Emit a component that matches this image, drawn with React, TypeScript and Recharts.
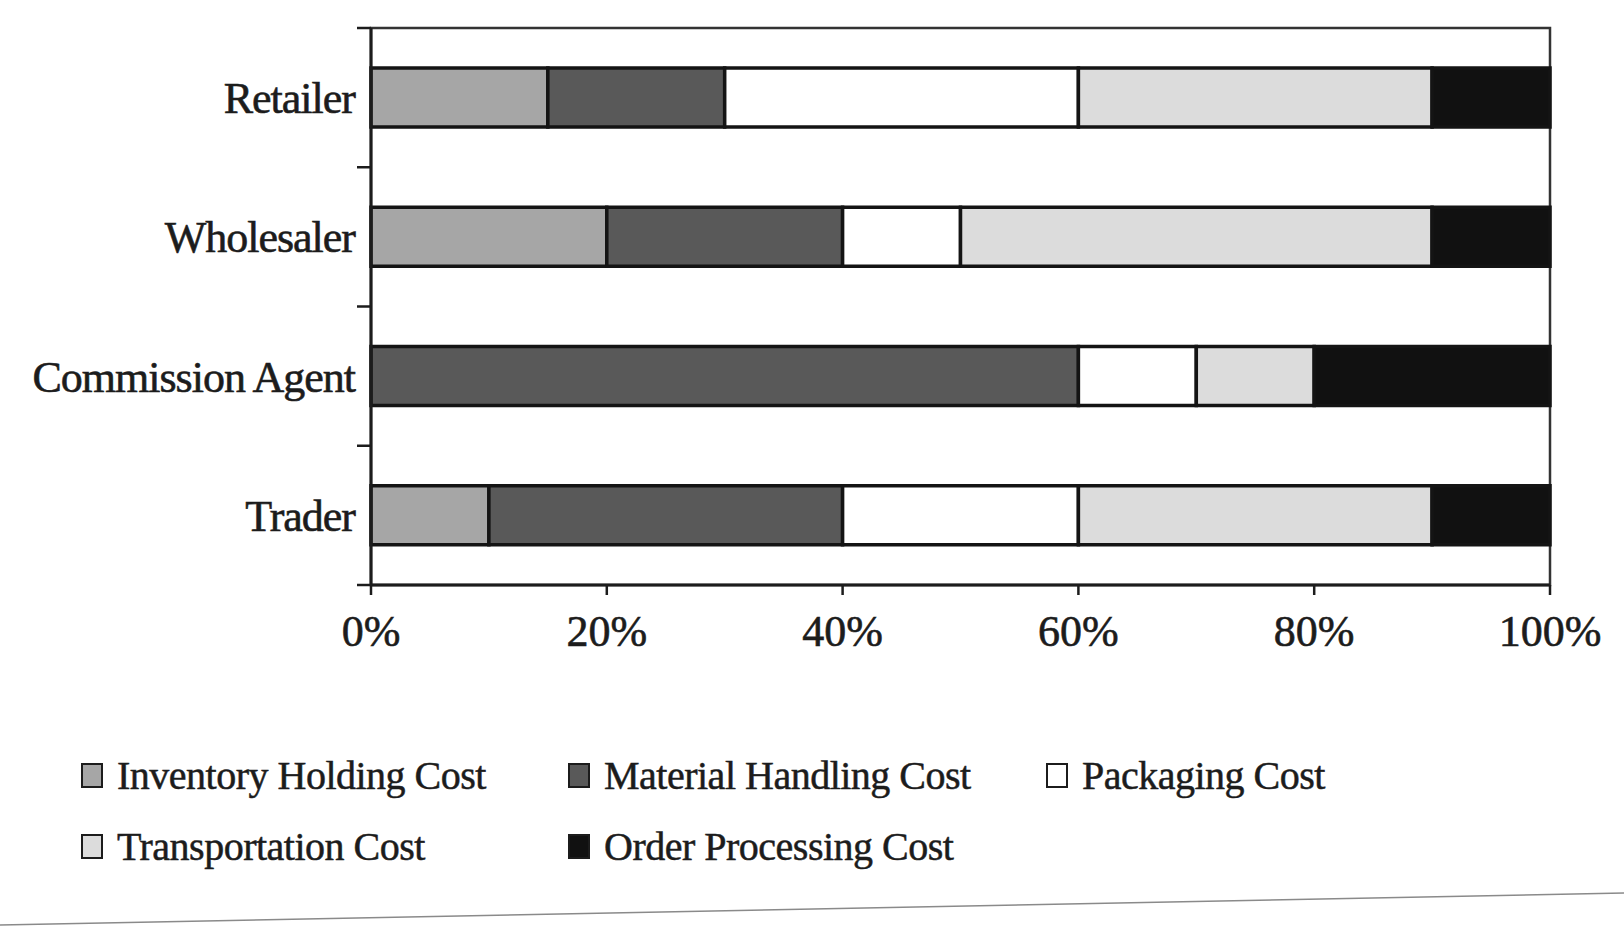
import { Bar, BarChart, ReferenceArea, XAxis, YAxis } from "recharts";

const categories = ["Retailer", "Wholesaler", "Commission Agent", "Trader"];
const inventoryHolding = [15, 20, 0, 10];
const materialHandling = [15, 20, 60, 30];
const packaging = [30, 10, 10, 20];
const transportation = [30, 40, 10, 30];
const orderProcessing = [10, 10, 20, 10];
const xTicks = [0, 20, 40, 60, 80, 100];

const series = [
  { key: "inventory", name: "Inventory Holding Cost", values: inventoryHolding, fill: "#a6a6a6" },
  { key: "material", name: "Material Handling Cost", values: materialHandling, fill: "#595959" },
  { key: "packaging", name: "Packaging Cost", values: packaging, fill: "#ffffff" },
  { key: "transport", name: "Transportation Cost", values: transportation, fill: "#dcdcdc" },
  { key: "order", name: "Order Processing Cost", values: orderProcessing, fill: "#111111" },
];

// legend is laid out in rows of three, like the printed figure
const legendRows = [series.slice(0, 3), series.slice(3)];

const data = categories.map((name, i) => {
  const row: Record<string, string | number> = { name };
  series.forEach((s) => (row[s.key] = s.values[i]));
  return row;
});

const W = 1624;
const PLOT_LEFT = 371;
const PLOT_TOP = 28;
const PLOT_BOTTOM = 585;
const HALF_BAND = (PLOT_BOTTOM - PLOT_TOP) / categories.length / 2;
const FONT = "'Liberation Serif', 'Times New Roman', serif";
const INK = "#1c1c1c";

function CategoryTick(props: any) {
  const { y, payload, index } = props;
  return (
    <g>
      <line x1={PLOT_LEFT - 14} x2={PLOT_LEFT} y1={y - HALF_BAND} y2={y - HALF_BAND} stroke={INK} strokeWidth={2.5} />
      {index === categories.length - 1 && (
        <line x1={PLOT_LEFT - 14} x2={PLOT_LEFT} y1={y + HALF_BAND} y2={y + HALF_BAND} stroke={INK} strokeWidth={2.5} />
      )}
      <text
        x={PLOT_LEFT - 16}
        y={y}
        dy="0.35em"
        textAnchor="end"
        fontFamily={FONT}
        fontSize={44}
        letterSpacing={-1}
        fill={INK}
        stroke={INK}
        strokeWidth={0.6}
      >
        {payload.value}
      </text>
    </g>
  );
}

export default function App() {
  return (
    <div style={{ position: "absolute", left: 0, top: 0, width: W, height: 938, background: "#fff", fontFamily: FONT }}>
      <BarChart
        width={W}
        height={680}
        data={data}
        layout="vertical"
        margin={{ top: PLOT_TOP, right: W - 1550, left: 0, bottom: 0 }}
      >
        <XAxis
          type="number"
          domain={[0, 100]}
          ticks={xTicks}
          tickFormatter={(v) => `${v}%`}
          height={680 - PLOT_BOTTOM}
          tickSize={10}
          tickMargin={20}
          axisLine={{ stroke: INK, strokeWidth: 3 }}
          tickLine={{ stroke: INK, strokeWidth: 2.5 }}
          tick={{ fontSize: 44, fill: INK, stroke: INK, strokeWidth: 0.6, fontFamily: FONT }}
        />
        <YAxis
          type="category"
          dataKey="name"
          width={PLOT_LEFT}
          interval={0}
          tickLine={false}
          axisLine={{ stroke: INK, strokeWidth: 3 }}
          tick={<CategoryTick />}
        />
        {series.map((s) => (
          <Bar
            key={s.key}
            dataKey={s.key}
            name={s.name}
            stackId="cost"
            fill={s.fill}
            stroke="#141414"
            strokeWidth={3.5}
            barSize={59}
            isAnimationActive={false}
          />
        ))}
        {/* plot frame (top and right edges) */}
        <ReferenceArea x1={0} x2={100} fill="none" stroke="#333" strokeWidth={2.5} ifOverflow="visible" />
      </BarChart>

      <div style={{ position: "absolute", top: 740, left: 81 }}>
        {legendRows.map((row, r) => (
          <div key={r} style={{ display: "flex", height: 71, alignItems: "center" }}>
            {row.map((s, c) => (
              <div
                key={s.key}
                style={{ display: "flex", alignItems: "center", width: c === 0 ? 487 : 478 }}
              >
                <span
                  style={{
                    display: "inline-block",
                    width: 18,
                    height: 21,
                    background: s.fill,
                    border: `2.5px solid ${INK}`,
                    marginRight: 14,
                  }}
                />
                <span
                  style={{
                    fontSize: 40,
                    letterSpacing: -0.5,
                    color: INK,
                    WebkitTextStroke: "0.5px #1c1c1c",
                    whiteSpace: "nowrap",
                  }}
                >
                  {s.name}
                </span>
              </div>
            ))}
          </div>
        ))}
      </div>

      <svg width={W} height={938} style={{ position: "absolute", left: 0, top: 0, pointerEvents: "none" }}>
        <line x1={0} y1={925} x2={W} y2={893} stroke="#8a8a8a" strokeWidth={1.5} />
      </svg>
    </div>
  );
}
